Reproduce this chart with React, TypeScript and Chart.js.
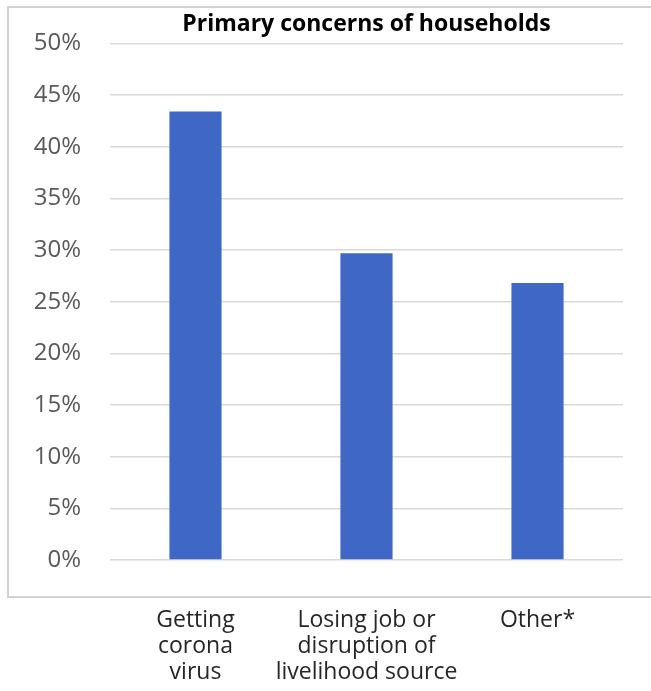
import React, { useEffect, useRef } from "react";
import { Chart, registerables } from "chart.js";

Chart.register(...registerables);

const categories: string[][] = [
  ["Getting", "corona", "virus"],
  ["Losing job or", "disruption of", "livelihood source"],
  ["Other*"],
];
const values: number[] = [43.4, 29.7, 26.8];
const yTickStep = 5;
const yMax = 50;
const titleText = "Primary concerns of households";

const framePlugin = {
  id: "frame",
  beforeDraw(chart: any) {
    const ctx = chart.ctx;
    ctx.save();
    ctx.fillStyle = "#ffffff";
    ctx.fillRect(0, 0, chart.width, chart.height);
    ctx.strokeStyle = "#d2d2d2";
    ctx.lineWidth = 2;
    ctx.strokeRect(8, 7, chart.width + 20, 590);
    ctx.restore();
  },
};

export default function App() {
  const ref = useRef<HTMLCanvasElement | null>(null);
  useEffect(() => {
    if (!ref.current) return;
    const chart = new Chart(ref.current, {
      type: "bar",
      data: {
        labels: categories,
        datasets: [
          {
            data: values,
            backgroundColor: "#3f68c6",
            categoryPercentage: 1,
            barPercentage: 0.305,
          },
        ],
      },
      plugins: [framePlugin],
      options: {
        animation: false,
        responsive: false,
        maintainAspectRatio: false,
        layout: { padding: { left: 0, right: 28, top: 0, bottom: 0 } },
        plugins: {
          legend: { display: false },
          tooltip: { enabled: false },
          title: {
            display: true,
            fullSize: false,
            text: titleText,
            color: "#000000",
            font: { family: "'Open Sans'", size: 23, weight: "bold", lineHeight: 1.2 },
            padding: { top: 9, bottom: 5 },
          },
        },
        scales: {
          x: {
            grid: { display: false, drawTicks: false },
            border: { display: false },
            ticks: {
              color: "#262626",
              font: { family: "'Open Sans'", size: 23, lineHeight: 1.12 },
              padding: 48,
              maxRotation: 0,
              autoSkip: false,
            },
            afterFit(scale: any) {
              scale.height = 131;
            },
          },
          y: {
            min: 0,
            max: yMax,
            grid: { color: "#d9d9d9", lineWidth: 1.5, drawTicks: false },
            border: { display: false },
            ticks: {
              stepSize: yTickStep,
              color: "#595959",
              padding: 29,
              font: { family: "'Open Sans'", size: 24 },
              callback: (v: any) => v + "%",
            },
            afterFit(scale: any) {
              scale.width = 110;
            },
          },
        },
      },
    } as any);
    return () => chart.destroy();
  }, []);
  return (
    <div style={{ position: "fixed", left: 0, top: 0, width: 651, height: 691 }}>
      <canvas ref={ref} width={651} height={691} style={{ width: 651, height: 691 }} />
    </div>
  );
}
